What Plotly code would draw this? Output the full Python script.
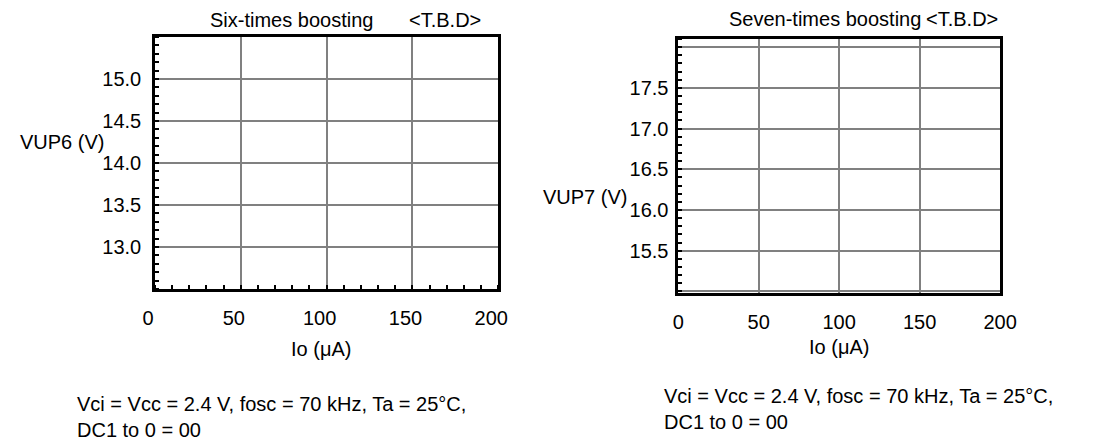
import plotly.graph_objects as go

# axis ticks
io_ticks = [0, 50, 100, 150, 200]
vup6_ticks = [13.0, 13.5, 14.0, 14.5, 15.0]
vup7_ticks = [15.0, 15.5, 16.0, 16.5, 17.0, 17.5, 18.0]
vup7_labels = ["", "15.5", "16.0", "16.5", "17.0", "17.5", ""]

# curves are still <T.B.D> in the source, so no points yet
io_vals = []
vup6_vals = []
vup7_vals = []

FONT = "Liberation Sans, Arial, Helvetica, sans-serif"
FS = 20
GRID = "#808080"

fig = go.Figure()
fig.add_trace(go.Scatter(x=io_vals, y=vup6_vals, mode="lines", xaxis="x", yaxis="y",
                         line=dict(color="black")))
fig.add_trace(go.Scatter(x=io_vals, y=vup7_vals, mode="lines", xaxis="x2", yaxis="y2",
                         line=dict(color="black")))

ax_common = dict(showline=True, linecolor="black", linewidth=2.5, mirror=True,
                 showgrid=True, gridcolor=GRID, gridwidth=2, zeroline=False,
                 tickfont=dict(size=FS, color="black"), fixedrange=True)

fig.update_layout(
    width=1093, height=442,
    margin=dict(l=0, r=0, t=0, b=0),
    paper_bgcolor="white", plot_bgcolor="white",
    font=dict(family=FONT, size=FS, color="black"),
    showlegend=False,
    xaxis=dict(domain=[146/1093, 499/1093], range=[0, 200], tickmode="array",
               tickvals=io_ticks, ticks="", ticklabelstandoff=9, ticklabelshift=-7,
               minor=dict(dtick=10, tick0=0, ticks="inside", ticklen=4,
                          tickcolor="black", tickwidth=2, showgrid=False),
               anchor="y", **ax_common),
    yaxis=dict(domain=[1 - 289/442, 1 - 37/442], range=[12.5, 15.5], tickmode="array",
               tickvals=vup6_ticks, ticktext=[f"{v:.1f}" for v in vup6_ticks],
               ticks="", ticklabelstandoff=7,
               minor=dict(dtick=0.1, tick0=12.5, ticks="inside", ticklen=4,
                          tickcolor="black", tickwidth=2, showgrid=False),
               anchor="x", **ax_common),
    xaxis2=dict(domain=[684/1093, 1015/1093], range=[0, 200], tickmode="array",
                tickvals=io_ticks, ticks="", ticklabelstandoff=9,
                anchor="y2", **ax_common),
    yaxis2=dict(domain=[1 - 293/442, 1 - 39/442], range=[14.98, 18.1], tickmode="array",
                tickvals=vup7_ticks, ticktext=vup7_labels,
                ticks="", ticklabelstandoff=3,
                minor=dict(dtick=0.1, tick0=15.0, ticks="inside", ticklen=4,
                           tickcolor="black", tickwidth=2, showgrid=False),
                anchor="x2", **ax_common),
)


def note(text, x, y, xanchor="left", yanchor="middle", align="left"):
    fig.add_annotation(text=text, x=x/1093, y=1 - y/442, xref="paper", yref="paper",
                       xanchor=xanchor, yanchor=yanchor, align=align, showarrow=False,
                       font=dict(family=FONT, size=FS, color="black"))


# titles
note("Six-times boosting", 201, 20)
note("&lt;T.B.D&gt;", 405, 20)
note("Seven-times boosting", 734, 19)
note("&lt;T.B.D&gt;", 937, 19)

# y titles
note("VUP6 (V)", 5, 142)
note("VUP7 (V)", 543, 197)

# x titles
note("Io (μA)", 317, 349, xanchor="center")
note("Io (μA)", 849, 347, xanchor="center")

# conditions
note("Vci = Vcc = 2.4 V, fosc = 70 kHz, Ta = 25°C,<br>DC1 to 0 = 00", 64, 417)
note("Vci = Vcc = 2.4 V, fosc = 70 kHz, Ta = 25°C,<br>DC1 to 0 = 00", 667, 409)

# drop the browser's default body margin so the figure sits at the page origin
fig.write_html("out.html", post_script="document.body.style.margin='0';",
               config={"displayModeBar": False})
